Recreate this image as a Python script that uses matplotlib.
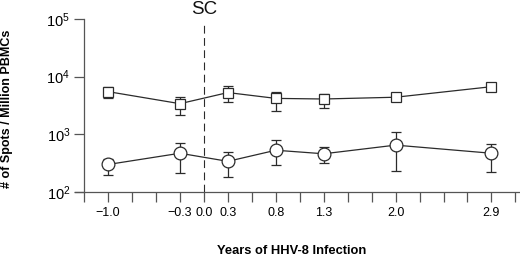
import matplotlib
matplotlib.use("Agg")
import matplotlib.pyplot as plt
import numpy as np

plt.rcParams['font.family'] = ['Liberation Sans', 'DejaVu Sans']
plt.rcParams['mathtext.fontset'] = 'custom'
plt.rcParams['mathtext.rm'] = 'Liberation Sans'
plt.rcParams['mathtext.it'] = 'Liberation Sans:italic'
plt.rcParams['mathtext.bf'] = 'Liberation Sans:bold'

# x axis is drawn on an evenly spaced slot grid, only some slots labelled
n_slots = 19
tick_labels = ['\u22121.0', '\u22120.3', '0.0', '0.3', '0.8', '1.3', '2.0', '2.9']
tick_slots = [1, 4, 5, 6, 8, 10, 13, 17]

# measured time points (years of HHV-8 infection), SC = seroconversion at 0.0
point_slots = [1, 4, 6, 8, 10, 13, 17]

# squares (upper series)
sq_mean = [5500, 3400, 5300, 4200, 4100, 4400, 6700]
sq_low = [4200, 2200, 3700, 2500, 2900, 4200, 6500]
sq_high = [6500, 4500, 6900, 5500, 5100, 4600, 6900]

# circles (lower series)
ci_mean = [300, 470, 340, 530, 460, 650, 470]
ci_low = [195, 215, 185, 290, 320, 235, 225]
ci_high = [380, 700, 490, 790, 600, 1080, 690]

col = '#2b2b2b'

fig = plt.figure(figsize=(5.2, 2.58), dpi=100)
ax = fig.add_axes([75 / 520, 1 - 192 / 258, 444 / 520, 173 / 258])

def draw(mean, low, high, marker, ms):
    mean = np.array(mean)
    yerr = [mean - np.array(low), np.array(high) - mean]
    ax.errorbar(point_slots, mean, yerr=yerr, fmt='-', color=col, lw=0.9,
                marker=marker, ms=ms, mfc='white', mec=col, mew=0.9,
                ecolor=col, elinewidth=0.9, capsize=3.6, capthick=0.9, zorder=3)

draw(sq_mean, sq_low, sq_high, 's', 7.8)
draw(ci_mean, ci_low, ci_high, 'o', 9.2)

ax.set_yscale('log')
ax.set_ylim(1e2, 1e5)
ax.set_xlim(-0.38, 18.15)

ax.axvline(5, ymin=0, ymax=0.98, color=col, lw=0.8, ls=(0, (7, 4)), zorder=1)
ax.text(5, 1.22e5, 'SC', ha='center', va='baseline', fontsize=13.5, color='#111111')

ax.spines['top'].set_visible(False)
ax.spines['right'].set_visible(False)
ax.spines['left'].set_position(('data', 0))
for s in ['left', 'bottom']:
    ax.spines[s].set_color('#555555')
    ax.spines[s].set_linewidth(0.9)

slot_labels = [''] * n_slots
for s, lab in zip(tick_slots, tick_labels):
    slot_labels[s] = lab
ax.set_xticks(range(n_slots))
ax.set_xticklabels(slot_labels)
ax.tick_params(axis='x', which='major', length=7, width=0.9, color='#555555',
               pad=4, labelsize=9)

ax.set_yticks([1e2, 1e3, 1e4, 1e5])
ax.set_yticklabels([r'$10^{2}$', r'$10^{3}$', r'$10^{4}$', r'$10^{5}$'])
ax.yaxis.set_minor_locator(matplotlib.ticker.NullLocator())
ax.tick_params(axis='y', which='major', length=7, width=0.9, color='#555555',
               labelsize=10.5, pad=3)

ax.set_ylabel('# of Spots / Million PBMCs', fontsize=9, fontweight='bold')
ax.yaxis.set_label_coords(-0.14, 0.48)
ax.set_xlabel('Years of HHV-8 Infection', fontsize=9.3, fontweight='bold')
ax.xaxis.set_label_coords(0.487, -0.305)

fig.savefig('out.png', dpi=100)
